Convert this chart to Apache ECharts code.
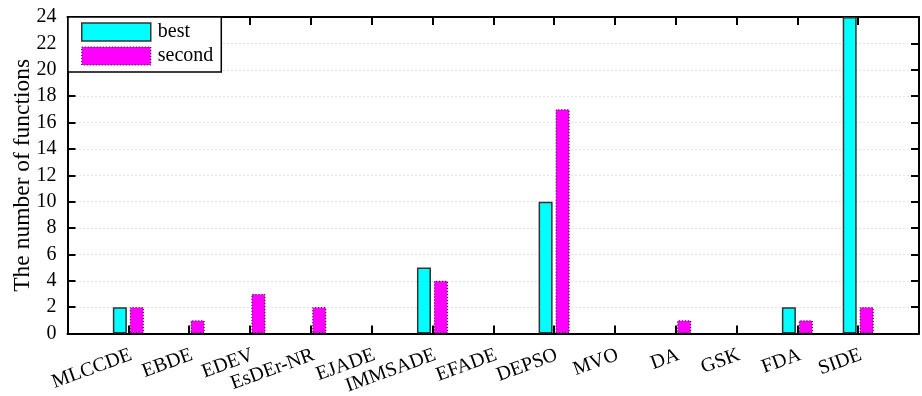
<!DOCTYPE html>
<html>
<head>
<meta charset="utf-8">
<script src="https://cdn.jsdelivr.net/npm/echarts@6/dist/echarts.min.js"></script>
<style>
html,body{margin:0;padding:0;background:#fff;}
#chart{width:922px;height:396px;}
</style>
</head>
<body>
<div id="chart"></div>
<script>
var categories = ['MLCCDE','EBDE','EDEV','EsDEr-NR','EJADE','IMMSADE','EFADE','DEPSO','MVO','DA','GSK','FDA','SIDE'];
var bestValues = [2,0,0,0,0,5,0,10,0,0,0,2,24];
var secondValues = [2,1,3,2,0,4,0,17,0,1,0,1,2];
var yTicks = [0,2,4,6,8,10,12,14,16,18,20,22,24];

var FONT = '"Liberation Serif", "Times New Roman", serif';
// categories sit at positions 1..N on an axis running 0..N+1
function toPoints(arr){
  var out = [];
  arr.forEach(function(v, i){ if (v !== 0) out.push([i + 1, v]); });
  return out;
}
function catLabel(v){
  var i = Math.round(v) - 1;
  return (i >= 0 && i < categories.length) ? categories[i] : '';
}

var chart = echarts.init(document.getElementById('chart'), null, {renderer:'canvas'});
var axisLine = {show:true, onZero:false, lineStyle:{color:'#000', width:2}};
var tick = {show:true, inside:true, length:8, lineStyle:{color:'#000', width:2}};
var xMax = categories.length + 1;
chart.setOption({
  animation:false,
  backgroundColor:'#fff',
  grid:{left:67.5, right:3, top:17, bottom:62.5, containLabel:false, outerBoundsMode:'none'},
  legend:{
    orient:'vertical', left:68, top:17,
    padding:[5,8,6,13], itemGap:4, itemWidth:69, itemHeight:18,
    backgroundColor:'#fff', borderColor:'#000', borderWidth:1.5, borderRadius:0,
    textStyle:{fontFamily:FONT, fontSize:20, color:'#000', padding:[0,0,0,2]},
    data:[
      {name:'best', icon:'rect', itemStyle:{color:'#00ffff', borderColor:'#333', borderWidth:1.5, borderType:'solid'}},
      {name:'second', icon:'rect', itemStyle:{color:'#ff00ff', borderColor:'#000', borderWidth:1, borderType:[1,2]}}
    ]
  },
  xAxis:[
    {type:'value', min:0, max:xMax, interval:1, position:'bottom',
     axisLine:axisLine, axisTick:tick,
     axisLabel:{rotate:20, margin:22, padding:[0,-3,0,0], fontFamily:FONT, fontSize:20, color:'#000', formatter:catLabel,
                showMinLabel:true, showMaxLabel:true},
     splitLine:{show:false}},
    {type:'value', min:0, max:xMax, interval:1, position:'top',
     axisLine:axisLine, axisTick:tick, axisLabel:{show:false}, splitLine:{show:false}}
  ],
  yAxis:[
    {type:'value', min:yTicks[0], max:yTicks[yTicks.length-1], interval:2, position:'left',
     name:'The number of functions', nameLocation:'middle', nameGap:33, nameMoveOverlap:false,
     nameTextStyle:{fontFamily:FONT, fontSize:23.5, color:'#000'},
     axisLine:axisLine, axisTick:tick,
     axisLabel:{margin:11, fontFamily:FONT, fontSize:20, color:'#000'},
     splitLine:{show:true, lineStyle:{color:'#c8c8c8', width:1, type:[1,3]}}},
    {type:'value', min:yTicks[0], max:yTicks[yTicks.length-1], interval:2, position:'right',
     axisLine:axisLine, axisTick:tick, axisLabel:{show:false}, splitLine:{show:false}}
  ],
  series:[
    {name:'best', type:'bar', xAxisIndex:0, yAxisIndex:0, data:toPoints(bestValues),
     barWidth:14, barGap:'21%',
     itemStyle:{color:'#00ffff', borderColor:'#333', borderWidth:1.5, borderType:'solid'}},
    {name:'second', type:'bar', xAxisIndex:0, yAxisIndex:0, data:toPoints(secondValues),
     barWidth:14, barGap:'21%',
     itemStyle:{color:'#ff00ff', borderColor:'#000', borderWidth:1, borderType:[1,2]}}
  ]
});
</script>
</body>
</html>
